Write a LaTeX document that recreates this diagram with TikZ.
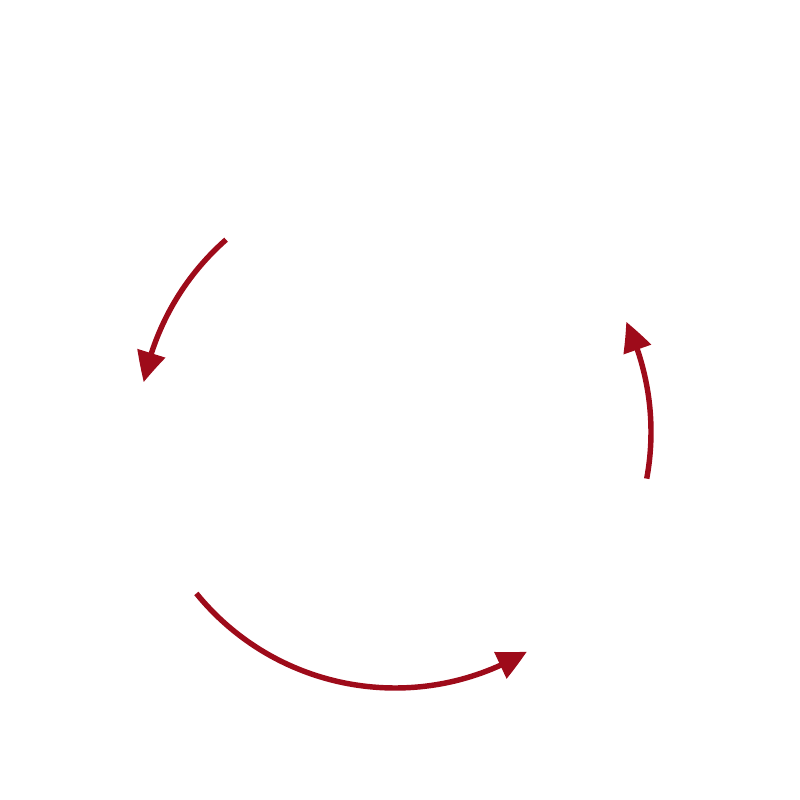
\documentclass[tikz,border=0pt]{standalone}
\usetikzlibrary{arrows.meta,bending,calc}
\definecolor{cyc}{HTML}{9E0B1A}
\begin{document}
\begin{tikzpicture}[
  cycarrow/.style={draw=cyc, line width=1.55pt, -{Triangle[length=0.3cm,width=0.28cm,bend]}, fill=none}
]
\useasboundingbox (0,0) rectangle (8,8);
\coordinate (c) at (3.95,3.68);
\coordinate (s1) at ($(c)+(131.3:2.56)$);
\coordinate (s2) at ($(c)+(219.1:2.56)$);
\coordinate (s3) at ($(c)+(-10.5:2.56)$);
\draw[cycarrow] (s1) arc[start angle=131.3, end angle=168.8, radius=2.56];
\draw[cycarrow] (s2) arc[start angle=219.1, end angle=301, radius=2.56];
\draw[cycarrow] (s3) arc[start angle=-10.5, end angle=25.5, radius=2.56];
\end{tikzpicture}
\end{document}
